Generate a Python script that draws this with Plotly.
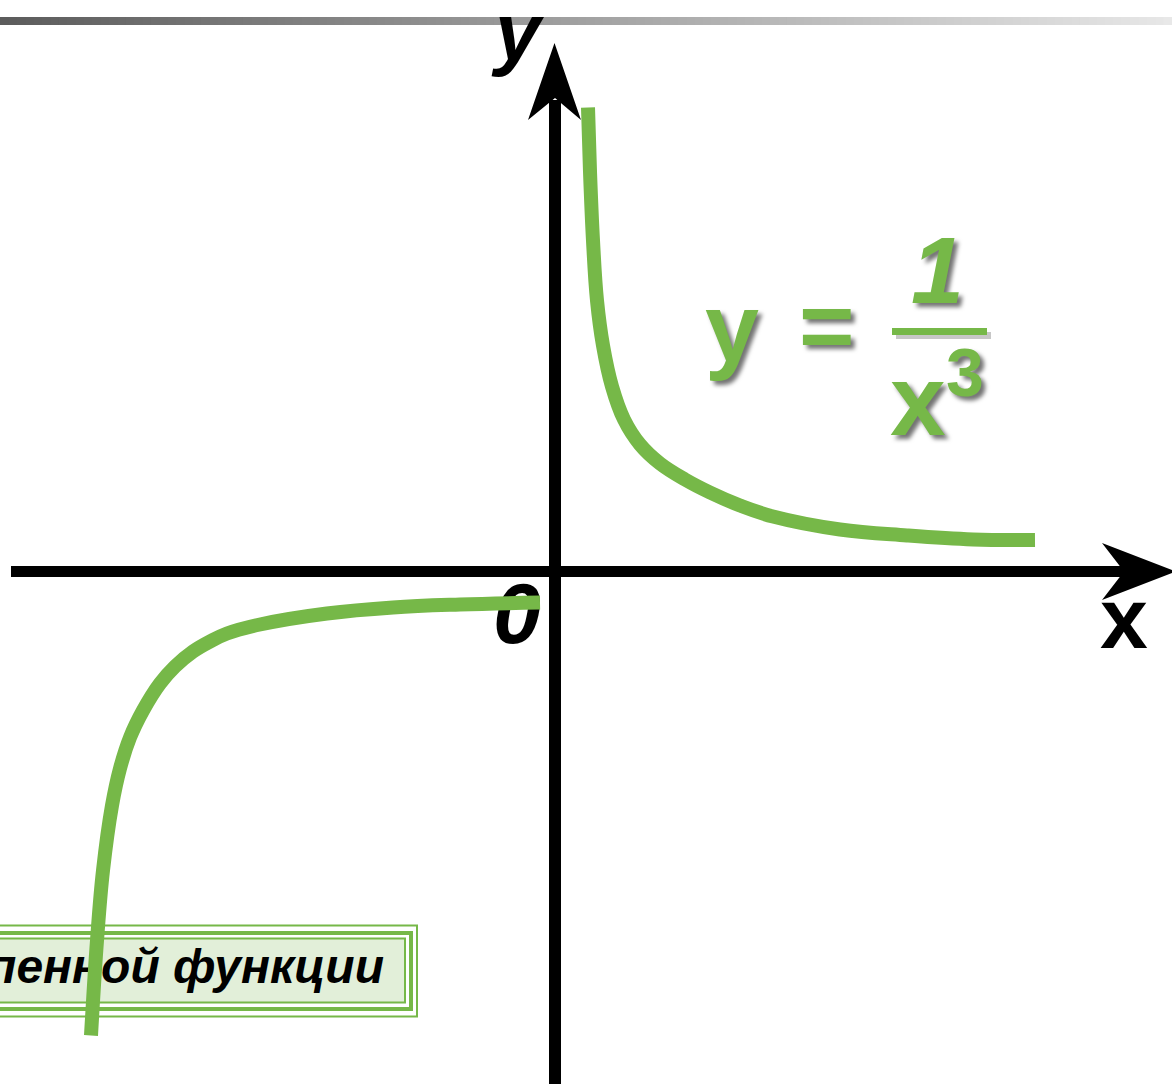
import plotly.graph_objects as go

# ---------------- data (math units) ----------------
right_x = [0.33, 0.35, 0.38, 0.42, 0.48, 0.57, 0.69, 0.85, 1.05, 1.30, 1.55, 1.85, 2.18, 2.85, 3.52, 4.18, 4.80]
right_y = [4.64, 4.00, 3.31, 2.71, 2.26, 1.85, 1.52, 1.27, 1.08, 0.92, 0.79, 0.66, 0.55, 0.42, 0.36, 0.32, 0.315]
left_x = [-4.64, -4.58, -4.52, -4.43, -4.35, -4.25, -4.12, -3.95, -3.80, -3.62, -3.45, -3.28, -2.95, -2.28, -1.62, -0.95, -0.15]
left_y = [-4.64, -3.69, -2.99, -2.34, -1.97, -1.66, -1.39, -1.12, -0.95, -0.80, -0.70, -0.62, -0.53, -0.42, -0.36, -0.33, -0.31]

axis_x_label = "x"
axis_y_label = "y"
origin_label = "0"
formula_parts = ["y", "=", "1", "x", "3"]
box_label = "пенной функции"

# ---------------- layout helpers ----------------
W, H = 1172, 1084
OX, OY, U = 555, 571.5, 100.0


def dx(px):
    return (px - OX) / U


def dy(py):
    return (OY - py) / U


GREEN = "rgb(118,184,72)"
LIGHT = "rgb(226,239,217)"
FONT = "Liberation Sans, Arial, sans-serif"
NARROW = "Liberation Sans Narrow, Liberation Sans, Arial, sans-serif"

fig = go.Figure()

# box label (under the curve)
fig.add_trace(go.Scatter(
    x=[dx(384)], y=[dy(971)], mode="text", text=[box_label],
    textposition="middle left",
    textfont=dict(family=FONT, size=48, color="black", weight="bold", style="italic"),
    hoverinfo="skip", showlegend=False))

# origin label (under the curve)
fig.add_trace(go.Scatter(
    x=[dx(517)], y=[dy(621)], mode="text", text=[origin_label],
    textposition="middle center",
    textfont=dict(family=NARROW, size=86, color="black", weight="bold", style="italic"),
    hoverinfo="skip", showlegend=False))

# the two branches
for xs, ys in [(right_x, right_y), (left_x, left_y)]:
    fig.add_trace(go.Scatter(
        x=xs, y=ys, mode="lines",
        line=dict(color=GREEN, width=14, shape="spline", smoothing=1.1),
        hoverinfo="skip", showlegend=False))

shapes = []

# gradient bar at the top
N = 140
for i in range(N):
    t = i / (N - 1)
    c = int(92 + (232 - 92) * t)
    shapes.append(dict(type="rect", xref="paper", yref="paper",
                       x0=i / N, x1=(i + 1) / N + 0.001,
                       y0=1 - 25 / H, y1=1 - 17 / H,
                       fillcolor=f"rgb({c},{c},{c})", line=dict(width=0), layer="below"))

# framed box (below the curve)
shapes.append(dict(type="rect", x0=dx(-10), x1=dx(417), y0=dy(1016.5), y1=dy(925.5),
                   line=dict(color=GREEN, width=2), fillcolor="white", layer="below"))
shapes.append(dict(type="rect", x0=dx(-10), x1=dx(411), y0=dy(1009), y1=dy(933),
                   line=dict(color=GREEN, width=4), fillcolor="white", layer="below"))
shapes.append(dict(type="rect", x0=dx(-10), x1=dx(405), y0=dy(1002.5), y1=dy(938.5),
                   line=dict(color=GREEN, width=2), fillcolor=LIGHT, layer="below"))

# x axis shaft and arrowhead
shapes.append(dict(type="rect", x0=dx(11), x1=dx(1126), y0=dy(577), y1=dy(566),
                   fillcolor="black", line=dict(width=0), layer="above"))
shapes.append(dict(type="path",
                   path=f"M {dx(1176)},{dy(571.5)} L {dx(1102)},{dy(543)} L {dx(1124)},{dy(571.5)} "
                        f"L {dx(1102)},{dy(600)} Z",
                   fillcolor="black", line=dict(width=0), layer="above"))
# y axis shaft and arrowhead
shapes.append(dict(type="rect", x0=dx(549), x1=dx(561), y0=dy(1090), y1=dy(100),
                   fillcolor="black", line=dict(width=0), layer="above"))
shapes.append(dict(type="path",
                   path=f"M {dx(554.5)},{dy(43)} L {dx(581)},{dy(120)} L {dx(555)},{dy(98)} "
                        f"L {dx(528)},{dy(120)} Z",
                   fillcolor="black", line=dict(width=0), layer="above"))

# fraction bar (with soft shadow)
shapes.append(dict(type="rect", x0=dx(896), x1=dx(991), y0=dy(339), y1=dy(332),
                   fillcolor="rgba(0,0,0,0.22)", line=dict(width=0), layer="above"))
shapes.append(dict(type="rect", x0=dx(892), x1=dx(987), y0=dy(335), y1=dy(328),
                   fillcolor=GREEN, line=dict(width=0), layer="above"))

SH = "4px 4px 4px rgba(0,0,0,0.55)"


def ann(text, px, py, size, color, family=FONT, weight="bold", style="italic", shadow="none"):
    return dict(text=text, xref="x", yref="y", x=dx(px), y=dy(py),
                xanchor="center", yanchor="middle", showarrow=False,
                font=dict(family=family, size=size, color=color, weight=weight,
                          style=style, shadow=shadow))


annotations = [
    ann(formula_parts[0], 732, 327, 97, GREEN, style="normal", shadow=SH),
    ann(formula_parts[1], 826, 325, 95, GREEN, style="normal", shadow=SH),
    ann(formula_parts[2], 937, 270, 95, GREEN, shadow=SH),
    ann(formula_parts[3], 918, 400, 100, GREEN, style="normal", shadow=SH),
    ann(formula_parts[4], 965, 372, 68, GREEN, style="normal", shadow=SH),
    ann(axis_y_label, 518, 31, 82, "black", family=NARROW),
    ann(axis_x_label, 1124, 618, 86, "black", family=NARROW, style="normal"),
]

fig.update_layout(
    width=W, height=H, autosize=False,
    margin=dict(l=0, r=0, t=0, b=0, pad=0),
    paper_bgcolor="white", plot_bgcolor="white",
    xaxis=dict(range=[dx(0), dx(W)], visible=False, fixedrange=True),
    yaxis=dict(range=[dy(H), dy(0)], visible=False, fixedrange=True),
    shapes=shapes, annotations=annotations, showlegend=False,
)

fig.write_html("out.html", config={"displayModeBar": False},
               post_script="document.body.style.margin='0';document.body.style.overflow='hidden';")
